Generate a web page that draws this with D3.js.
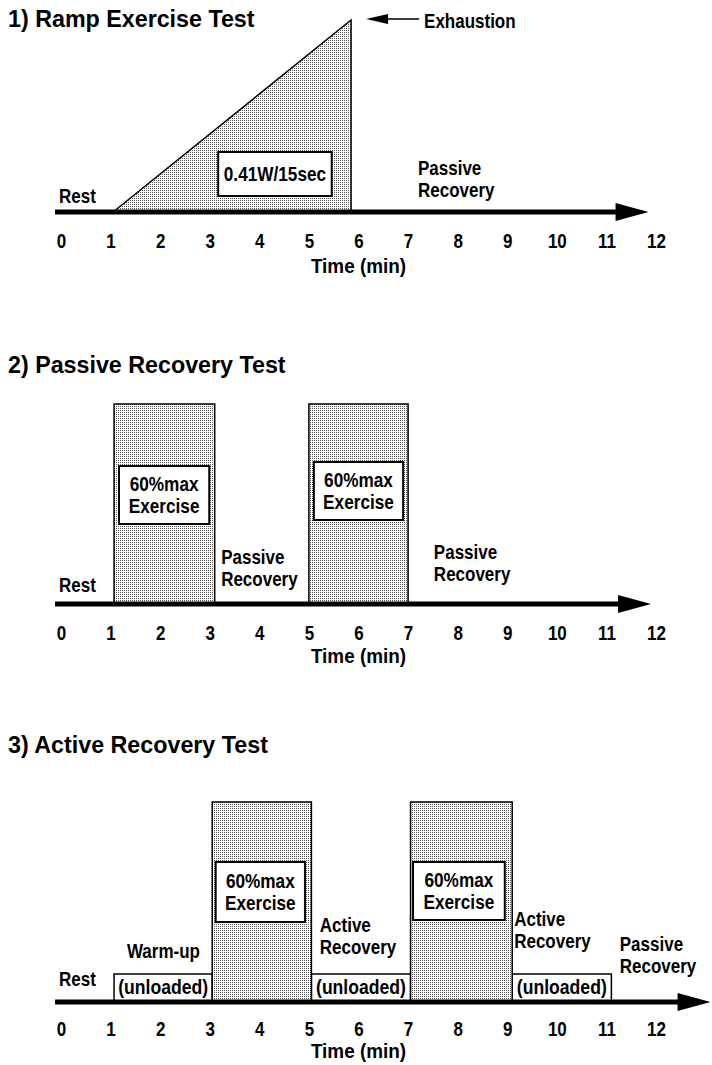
<!DOCTYPE html>
<html>
<head>
<meta charset="utf-8">
<script src="https://cdn.jsdelivr.net/npm/d3@7"></script>
<style>
  body { margin: 0; background: #fff; }
  svg text { font-family: "Liberation Sans", Arial, sans-serif; font-weight: bold; fill: #000; }
</style>
</head>
<body>
<script>
// time axis ticks (min)
var ticks = d3.range(0, 13);

// 1) ramp: load rises from rest to exhaustion
var rampPoints = [{ t: 1.05, load: 0 }, { t: 5.85, load: 0.96 }];

// 2) passive recovery test: exercise bouts
var passiveBouts = [{ start: 1.07, end: 3.1, load: 1 }, { start: 5.0, end: 7.0, load: 1 }];

// 3) active recovery test
var activeBouts = [{ start: 3.05, end: 5.05, load: 1 }, { start: 7.05, end: 9.1, load: 1 }];
var unloadedBouts = [
  { start: 1.07, end: 3.05, load: 0.14 },
  { start: 5.05, end: 7.05, load: 0.14 },
  { start: 9.1, end: 11.1, load: 0.14 }
];

var titles = ["1) Ramp Exercise Test", "2) Passive Recovery Test", "3) Active Recovery Test"];

// phase labels: t = minute, h = px above the axis for first baseline
var rampLabels = [
  { t: -0.04, h: 9, lines: ["Rest"] },
  { t: 7.2, h: 37, lines: ["Passive", "Recovery"] }
];
var passiveLabels = [
  { t: -0.04, h: 12, lines: ["Rest"] },
  { t: 3.23, h: 40, lines: ["Passive", "Recovery"] },
  { t: 7.52, h: 45, lines: ["Passive", "Recovery"] }
];
var activeLabels = [
  { t: -0.04, h: 16, lines: ["Rest"] },
  { t: 1.33, h: 44, lines: ["Warm-up"] },
  { t: 5.22, h: 70, lines: ["Active", "Recovery"] },
  { t: 9.14, h: 76, lines: ["Active", "Recovery"] },
  { t: 11.27, h: 51, lines: ["Passive", "Recovery"] }
];

// boxed notes, in minutes and load units
var rampNotes = [{ t0: 3.17, t1: 5.46, top: 0.3, bottom: 0.08, lines: ["0.41W/15sec"] }];
var passiveNotes = [
  { t0: 1.17, t1: 2.99, top: 0.69, bottom: 0.40, lines: ["60%max", "Exercise"] },
  { t0: 5.1, t1: 6.9, top: 0.71, bottom: 0.42, lines: ["60%max", "Exercise"] }
];
var activeNotes = [
  { t0: 3.12, t1: 4.92, top: 0.70, bottom: 0.40, lines: ["60%max", "Exercise"] },
  { t0: 7.1, t1: 8.95, top: 0.70, bottom: 0.41, lines: ["60%max", "Exercise"] }
];

var W = 712, H = 1065;

var svg = d3.select("body").append("svg")
    .attr("width", W)
    .attr("height", H);

var defs = svg.append("defs");
var pat = defs.append("pattern")
    .attr("id", "stipple")
    .attr("width", 2).attr("height", 2)
    .attr("patternUnits", "userSpaceOnUse");
pat.append("rect").attr("width", 2).attr("height", 2).attr("fill", "#fff");
pat.append("rect").attr("width", 1).attr("height", 1).attr("fill", "#555");

// squeeze text sideways, keeping its anchor x in place (narrow typeface look)
function narrow(sel, k) {
  sel.attr("transform", function () {
    var x0 = +this.getAttribute("x") || 0;
    return "translate(" + (x0 * (1 - k)) + ",0) scale(" + k + ",1)";
  });
}

var x = d3.scaleLinear().domain([0, 12]).range([61, 656]);

var panels = [
  { title: titles[0], titleY: 27, axisY: 212, tickDy: 22, timeDy: 61, arrowEnd: 11.85, labels: rampLabels, notes: rampNotes },
  { title: titles[1], titleY: 373, axisY: 604, tickDy: 22, timeDy: 59, arrowEnd: 11.9, labels: passiveLabels, notes: passiveNotes, bouts: passiveBouts },
  { title: titles[2], titleY: 753, axisY: 1002, tickDy: 20, timeDy: 56, arrowEnd: 13.1, labels: activeLabels, notes: activeNotes, bouts: activeBouts, unloaded: unloadedBouts }
];

panels.forEach(function (p, i) {
  var g = svg.append("g");
  var y = d3.scaleLinear().domain([0, 1]).range([p.axisY, p.axisY - 200]);

  g.append("text")
      .attr("x", 8)
      .attr("y", p.titleY)
      .style("font-size", "24px")
      .text(p.title)
      .call(narrow, 0.97);

  // ramp
  if (i === 0) {
    var area = d3.area()
        .x(function (d) { return x(d.t); })
        .y0(p.axisY)
        .y1(function (d) { return y(d.load); });
    g.append("path")
        .datum(rampPoints)
        .attr("d", area)
        .attr("fill", "url(#stipple)")
        .attr("stroke", "#000")
        .attr("stroke-width", 1.5);

    // exhaustion marker
    var peak = rampPoints[rampPoints.length - 1];
    var ay = y(peak.load) - 1;
    var ax = x(peak.t) + 15;
    g.append("line")
        .attr("x1", ax + 18).attr("x2", ax + 53)
        .attr("y1", ay).attr("y2", ay)
        .attr("stroke", "#000").attr("stroke-width", 1.5);
    g.append("path")
        .attr("d", "M" + ax + "," + ay + "L" + (ax + 22) + "," + (ay - 5) + "L" + (ax + 22) + "," + (ay + 5) + "Z")
        .attr("fill", "#000");
    g.append("text")
        .attr("x", ax + 58)
        .attr("y", ay + 9)
        .style("font-size", "20px")
        .text("Exhaustion")
        .call(narrow, 0.85);
  }

  if (p.unloaded) {
    g.selectAll("rect.unloaded")
        .data(p.unloaded)
        .enter().append("rect")
        .attr("class", "unloaded")
        .attr("x", function (d) { return x(d.start); })
        .attr("y", function (d) { return y(d.load); })
        .attr("width", function (d) { return x(d.end) - x(d.start); })
        .attr("height", function (d) { return y(0) - y(d.load); })
        .attr("fill", "#fff")
        .attr("stroke", "#000")
        .attr("stroke-width", 1.5);
    g.selectAll("text.unloaded")
        .data(p.unloaded)
        .enter().append("text")
        .attr("class", "unloaded")
        .attr("x", function (d) { return (x(d.start) + x(d.end)) / 2; })
        .attr("y", p.axisY - 8)
        .attr("text-anchor", "middle")
        .style("font-size", "20px")
        .text("(unloaded)")
        .call(narrow, 0.88);
  }

  if (p.bouts) {
    g.selectAll("rect.bout")
        .data(p.bouts)
        .enter().append("rect")
        .attr("class", "bout")
        .attr("x", function (d) { return x(d.start); })
        .attr("y", function (d) { return y(d.load); })
        .attr("width", function (d) { return x(d.end) - x(d.start); })
        .attr("height", function (d) { return y(0) - y(d.load); })
        .attr("fill", "url(#stipple)")
        .attr("stroke", "#000")
        .attr("stroke-width", 1.5);
  }

  // boxed notes
  var note = g.selectAll("g.note")
      .data(p.notes)
      .enter().append("g")
      .attr("class", "note");
  note.append("rect")
      .attr("x", function (d) { return x(d.t0); })
      .attr("y", function (d) { return y(d.top); })
      .attr("width", function (d) { return x(d.t1) - x(d.t0); })
      .attr("height", function (d) { return y(d.bottom) - y(d.top); })
      .attr("fill", "#fff")
      .attr("stroke", "#000")
      .attr("stroke-width", 2);
  note.each(function (d) {
    var cx = (x(d.t0) + x(d.t1)) / 2;
    var cy = (y(d.top) + y(d.bottom)) / 2;
    var n = d.lines.length;
    d3.select(this).selectAll("text")
        .data(d.lines)
        .enter().append("text")
        .attr("x", cx)
        .attr("y", function (l, k) { return cy + 7 + (k - (n - 1) / 2) * 22; })
        .attr("text-anchor", "middle")
        .style("font-size", "20px")
        .text(function (l) { return l; })
        .call(narrow, 0.86);
  });

  // phase labels
  p.labels.forEach(function (lab) {
    g.selectAll(null)
        .data(lab.lines)
        .enter().append("text")
        .attr("x", x(lab.t))
        .attr("y", function (l, k) { return p.axisY - lab.h + k * 22; })
        .style("font-size", "20px")
        .text(function (l) { return l; })
        .call(narrow, 0.85);
  });

  // thick time arrow
  var tip = x(p.arrowEnd);
  g.append("line")
      .attr("x1", x(-0.12)).attr("x2", tip - 28)
      .attr("y1", p.axisY).attr("y2", p.axisY)
      .attr("stroke", "#000").attr("stroke-width", 5);
  g.append("path")
      .attr("d", "M" + tip + "," + p.axisY + "L" + (tip - 33) + "," + (p.axisY - 9) + "L" + (tip - 33) + "," + (p.axisY + 9) + "Z")
      .attr("fill", "#000");

  var axis = g.append("g")
      .attr("transform", "translate(0," + (p.axisY + p.tickDy) + ")")
      .call(d3.axisBottom(x).tickValues(ticks).tickSize(0).tickPadding(0));
  axis.select(".domain").remove();
  axis.selectAll("text")
      .attr("font-family", null)
      .style("font-size", "20px")
      .attr("transform", "scale(0.85,1)");

  g.append("text")
      .attr("x", x(6))
      .attr("y", p.axisY + p.timeDy)
      .attr("text-anchor", "middle")
      .style("font-size", "21px")
      .text("Time (min)")
      .call(narrow, 0.9);
});
</script>
</body>
</html>
